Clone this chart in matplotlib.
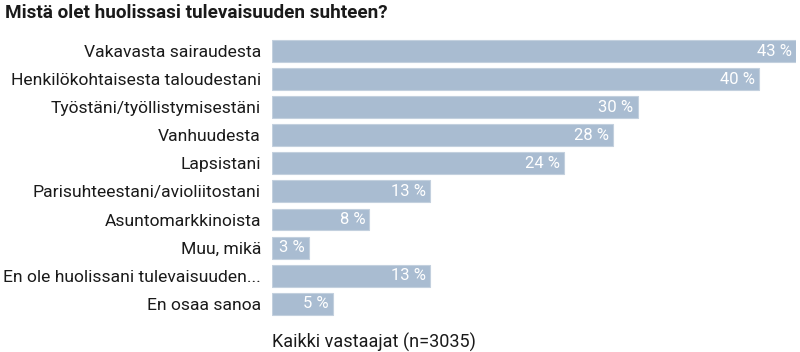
import matplotlib.pyplot as plt

categories = ['Vakavasta sairaudesta', 'Henkilökohtaisesta taloudestani',
              'Työstäni/työllistymisestäni', 'Vanhuudesta', 'Lapsistani',
              'Parisuhteestani/avioliitostani', 'Asuntomarkkinoista', 'Muu, mikä',
              'En ole huolissani tulevaisuuden...', 'En osaa sanoa']
values = [43, 40, 30, 28, 24, 13, 8, 3, 13, 5]

plt.rcParams['font.family'] = ['Roboto', 'DejaVu Sans']

fig = plt.figure(figsize=(8, 3.52), dpi=100)
ax = fig.add_axes([0.34, 0.097, 0.655, 0.798])

y = list(range(len(categories)))
ax.barh(y, values, height=0.78, color='#a9bcd1', edgecolor='#c3d0de', linewidth=0.8)
for yi, v in zip(y, values):
    ax.text(v - 0.35, yi, f'{v} %', ha='right', va='center', color='white', fontsize=12)

ax.set_ylim(len(categories) - 0.5, -0.5)
ax.set_xlim(0, 43)
ax.set_yticks(y, labels=categories)
ax.tick_params(axis='y', length=0, pad=8, labelsize=12.6, labelcolor='#1a1a1a')
ax.set_xticks([])
for s in ax.spines.values():
    s.set_visible(False)

fig.text(0.006, 0.962, 'Mistä olet huolissasi tulevaisuuden suhteen?', fontsize=13.6,
         fontweight='bold', ha='left', va='center', color='#1a1a1a')
fig.text(0.34, 0.028, 'Kaikki vastaajat (n=3035)', fontsize=13, ha='left', va='center',
         color='#1a1a1a')

fig.savefig('out.png', dpi=100)
